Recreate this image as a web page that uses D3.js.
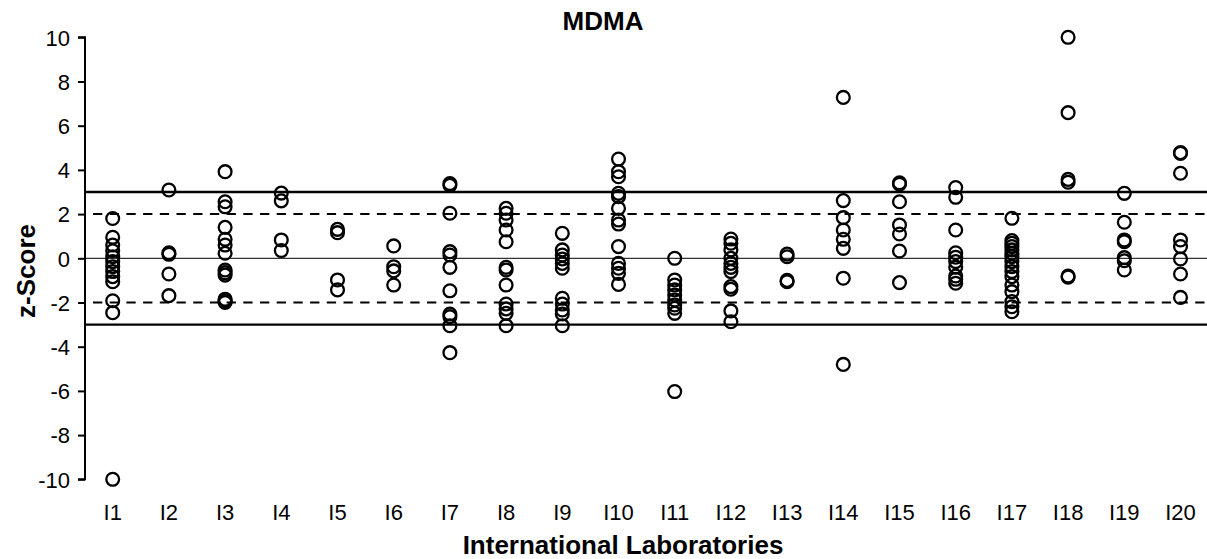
<!DOCTYPE html>
<html>
<head>
<meta charset="utf-8">
<script src="https://cdn.jsdelivr.net/npm/d3@7"></script>
<style>
  html, body { margin: 0; padding: 0; background: #fff; }
  svg { display: block; font-family: "Liberation Sans", Arial, sans-serif; }
</style>
</head>
<body>
<svg id="chart" width="1207" height="559"></svg>
<script>
// Laboratory codes along the x axis
const labs = ["I1","I2","I3","I4","I5","I6","I7","I8","I9","I10",
              "I11","I12","I13","I14","I15","I16","I17","I18","I19","I20"];

// z-scores reported by each laboratory
const i1  = [1.8, 0.95, 0.6, 0.34, 0.07, -0.15, -0.38, -0.6, -0.83, -1.06, -1.92, -2.46, -10];
const i2  = [3.09, 0.25, 0.18, -0.71, -1.69];
const i3  = [3.92, 2.56, 2.33, 1.4, 0.86, 0.6, 0.23, -0.53, -0.65, -0.76, -1.85, -1.92, -2.0];
const i4  = [2.95, 2.6, 0.83, 0.35];
const i5  = [1.31, 1.16, -0.98, -1.43];
const i6  = [0.56, -0.38, -0.57, -1.21];
const i7  = [3.38, 3.3, 2.04, 0.3, 0.15, -0.41, -1.47, -2.52, -2.64, -3.05, -4.27];
const i8  = [2.26, 2.04, 1.73, 1.28, 0.75, -0.41, -0.53, -1.21, -2.07, -2.29, -2.49, -3.05];
const i9  = [1.13, 0.38, 0.15, -0.03, -0.23, -0.45, -1.81, -2.07, -2.34, -2.52, -3.05];
const i10 = [4.49, 3.92, 3.69, 2.94, 2.79, 2.26, 1.73, 1.55, 0.53, -0.23, -0.45, -0.68, -1.18];
const i11 = [0.0, -0.98, -1.21, -1.43, -1.66, -1.89, -2.11, -2.26, -2.49, -6.03];
const i12 = [0.87, 0.68, 0.38, 0.0, -0.23, -0.41, -0.6, -1.28, -1.4, -2.38, -2.87];
const i13 = [0.19, 0.07, -1.0, -1.06];
const i14 = [7.28, 2.61, 1.84, 1.28, 0.86, 0.45, -0.9, -4.8];
const i15 = [3.42, 3.35, 2.56, 1.51, 1.1, 0.33, -1.1];
const i16 = [3.2, 2.76, 1.28, 0.25, 0.05, -0.15, -0.4, -0.8, -0.95, -1.13];
const i17 = [1.81, 0.8, 0.68, 0.53, 0.38, 0.23, 0.07, -0.15, -0.38, -0.6, -0.83, -1.21, -1.51, -1.96, -2.19, -2.42];
const i18 = [10.0, 6.59, 3.57, 3.44, -0.8, -0.85];
const i19 = [2.94, 1.63, 0.83, 0.75, 0.03, -0.11, -0.53];
const i20 = [4.78, 4.75, 3.85, 0.83, 0.53, -0.03, -0.71, -1.77];
const scoresByLab = [i1,i2,i3,i4,i5,i6,i7,i8,i9,i10,i11,i12,i13,i14,i15,i16,i17,i18,i19,i20];

// Axis ticks and assessment limits
const yTicks = [-10, -8, -6, -4, -2, 0, 2, 4, 6, 8, 10];
const actionLimits = [-3, 3];   // |z| >= 3 unsatisfactory
const warningLimits = [-2, 2];  // |z| >= 2 questionable
const centreLine = [0];

const svg = d3.select("#chart");
const W = 1207;

const x = d3.scaleBand().domain(labs).range([84.6, 1208.6]).padding(0);
const y = d3.scaleLinear().domain([-10, 10]).range([479.3, 37.3]);
const xc = d => x(d) + x.bandwidth() / 2;

// Reference lines
const plotLeft = 85, plotRight = W;
svg.append("g").selectAll("line").data(actionLimits).join("line")
  .attr("x1", plotLeft).attr("x2", plotRight)
  .attr("y1", d => y(d)).attr("y2", d => y(d))
  .attr("stroke", "#000").attr("stroke-width", 2.4);
svg.append("g").selectAll("line").data(warningLimits).join("line")
  .attr("x1", plotLeft + 8).attr("x2", plotRight)
  .attr("y1", d => y(d)).attr("y2", d => y(d))
  .attr("stroke", "#000").attr("stroke-width", 2)
  .attr("stroke-dasharray", "9.3,7.4");
svg.append("g").selectAll("line").data(centreLine).join("line")
  .attr("x1", plotLeft).attr("x2", plotRight)
  .attr("y1", d => y(d)).attr("y2", d => y(d))
  .attr("stroke", "#000").attr("stroke-width", 1);

// Y axis
const yAxis = d3.axisLeft(y).tickValues(yTicks).tickSize(7).tickPadding(8)
  .tickFormat(d => String(d));
const gy = svg.append("g").attr("transform", `translate(${plotLeft},0)`).call(yAxis);
gy.select(".domain").attr("stroke", "#000").attr("stroke-width", 2).attr("d", `M-7,${y(10)}H0V${y(-10)}H-7`);
gy.selectAll(".tick line").attr("stroke", "#000").attr("stroke-width", 2);
gy.selectAll(".tick text").attr("fill", "#000").style("font-size", "22px")
  .style("font-family", "'Liberation Sans', Arial, sans-serif").attr("dy", "0.35em");

// X axis labels (no axis line)
const xAxis = d3.axisBottom(x).tickSize(0).tickPadding(0);
const gx = svg.append("g").attr("transform", "translate(0,482)").call(xAxis);
gx.select(".domain").remove();
gx.selectAll(".tick text").attr("fill", "#000").style("font-size", "22px")
  .style("font-family", "'Liberation Sans', Arial, sans-serif")
  .attr("dy", null).attr("y", 38);

// Points
const pts = [];
labs.forEach((lab, i) => scoresByLab[i].forEach(v => pts.push({ lab, v })));
svg.append("g").selectAll("circle").data(pts).join("circle")
  .attr("cx", d => xc(d.lab)).attr("cy", d => y(d.v)).attr("r", 6.4)
  .attr("fill", "none").attr("stroke", "#000").attr("stroke-width", 2.3);

// Titles
svg.append("text").attr("x", 603).attr("y", 30).attr("text-anchor", "middle")
  .style("font-size", "26px").style("font-weight", "bold").text("MDMA");
svg.append("text").attr("x", 623).attr("y", 554).attr("text-anchor", "middle")
  .style("font-size", "26px").style("font-weight", "bold").text("International Laboratories");
svg.append("text").attr("transform", "translate(35,271) rotate(-90)").attr("text-anchor", "middle")
  .style("font-size", "26px").style("font-weight", "bold").text("z-Score");
</script>
</body>
</html>
